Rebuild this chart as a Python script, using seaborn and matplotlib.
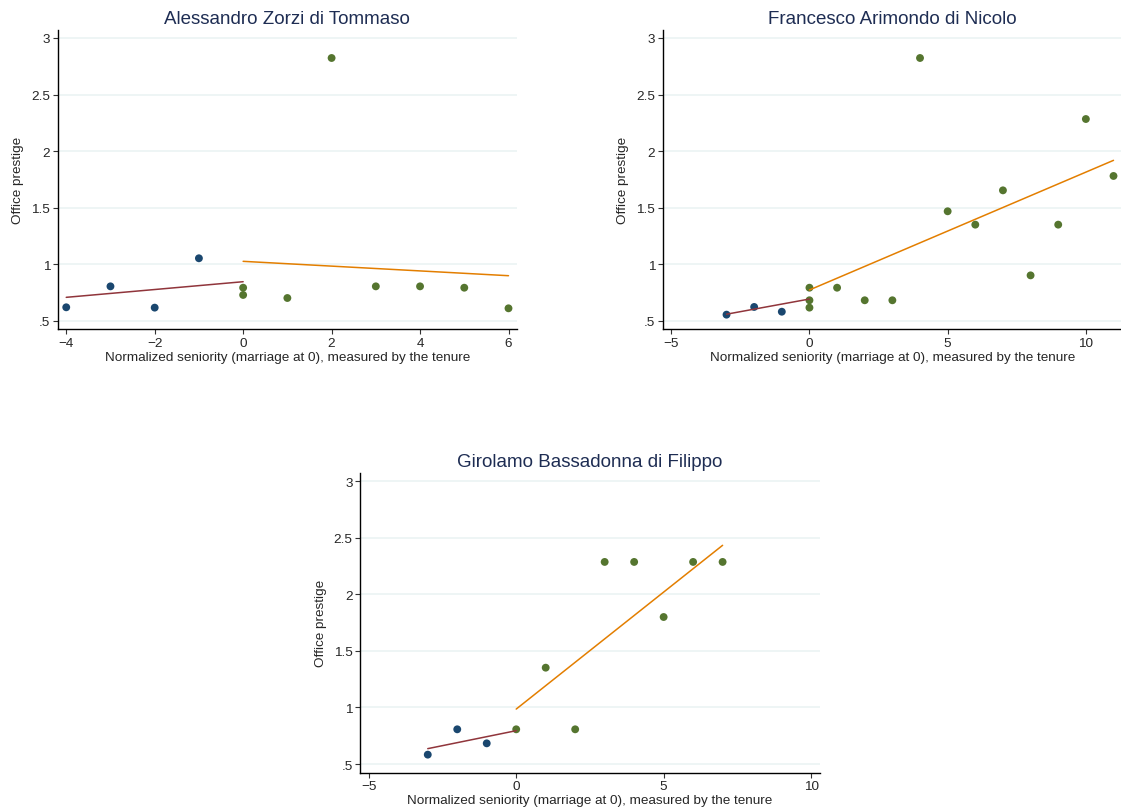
import matplotlib
matplotlib.use("Agg")
import matplotlib.pyplot as plt
import seaborn as sns
import pandas as pd

# Dados (senioridade normalizada vs prestígio do cargo)
names = ["Alessandro Zorzi di Tommaso",
         "Francesco Arimondo di Nicolo",
         "Girolamo Bassadonna di Filippo"]

zorzi_seniority = [-4, -3, -2, -1, 0, 0, 1, 2, 3, 4, 5, 6]
zorzi_prestige = [0.621, 0.806, 0.618, 1.054, 0.794, 0.730, 0.703, 2.823,
                  0.806, 0.806, 0.794, 0.612]
zorzi_fit_pre_x = [-4, 0]
zorzi_fit_pre_y = [0.709, 0.847]
zorzi_fit_post_x = [0, 6]
zorzi_fit_post_y = [1.027, 0.900]

arimondo_seniority = [-3, -2, -1, 0, 0, 0, 1, 2, 3, 4, 5, 6, 7, 8, 9, 10, 11]
arimondo_prestige = [0.556, 0.624, 0.582, 0.794, 0.683, 0.618, 0.794, 0.683,
                     0.683, 2.823, 1.469, 1.351, 1.654, 0.903, 1.351, 2.284,
                     1.781]
arimondo_fit_pre_x = [-3, 0]
arimondo_fit_pre_y = [0.560, 0.694]
arimondo_fit_post_x = [0, 11]
arimondo_fit_post_y = [0.774, 1.919]

bassadonna_seniority = [-3, -2, -1, 0, 1, 2, 3, 4, 5, 6, 7]
bassadonna_prestige = [0.583, 0.807, 0.683, 0.807, 1.352, 0.807, 2.287,
                       2.287, 1.800, 2.287, 2.287]
bassadonna_fit_pre_x = [-3, 0]
bassadonna_fit_pre_y = [0.636, 0.795]
bassadonna_fit_post_x = [0, 7]
bassadonna_fit_post_y = [0.986, 2.434]

yticks = [0.5, 1, 1.5, 2, 2.5, 3]
ytick_labels = [".5", "1", "1.5", "2", "2.5", "3"]
xticks_zorzi = [-4, -2, 0, 2, 4, 6]
xticks_other = [-5, 0, 5, 10]

# Cores (esquema s2color)
cor_antes = "#1a476f"
cor_depois = "#55752f"
cor_fit_antes = "#90353b"
cor_fit_depois = "#e37e00"
cor_titulo = "#1e2d53"

sns.set_style("white")
plt.rcParams['font.family'] = ['Liberation Sans', 'DejaVu Sans']

fig = plt.figure(figsize=(11.21, 8.12), dpi=100)

paineis = [
    (names[0], zorzi_seniority, zorzi_prestige, zorzi_fit_pre_x, zorzi_fit_pre_y,
     zorzi_fit_post_x, zorzi_fit_post_y, xticks_zorzi, (-4, 6),
     [0.0515, 0.593, 0.4097, 0.3692]),
    (names[1], arimondo_seniority, arimondo_prestige, arimondo_fit_pre_x,
     arimondo_fit_pre_y, arimondo_fit_post_x, arimondo_fit_post_y,
     xticks_other, (-5, 11), [0.5912, 0.593, 0.4097, 0.3692]),
    (names[2], bassadonna_seniority, bassadonna_prestige, bassadonna_fit_pre_x,
     bassadonna_fit_pre_y, bassadonna_fit_post_x, bassadonna_fit_post_y,
     xticks_other, (-5, 10), [0.3214, 0.0474, 0.4097, 0.3688]),
]

for (nome, sx, py, fpx, fpy, fqx, fqy, xt, (x0, x1), pos) in paineis:
    ax = fig.add_axes(pos)
    df = pd.DataFrame({"seniority": sx, "prestige": py})
    df["periodo"] = ["antes" if v < 0 else "depois" for v in sx]

    # grade horizontal clara
    for t in yticks:
        ax.axhline(t, color="#eaf2f3", lw=1.1, zorder=0)

    sns.scatterplot(data=df, x="seniority", y="prestige", hue="periodo",
                    palette={"antes": cor_antes, "depois": cor_depois},
                    s=32, linewidth=0, legend=False, ax=ax, zorder=3)
    sns.lineplot(x=fpx, y=fpy, color=cor_fit_antes, lw=1.1, ax=ax, zorder=4)
    sns.lineplot(x=fqx, y=fqy, color=cor_fit_depois, lw=1.1, ax=ax, zorder=4)

    pad = (x1 - x0) * 8.5 / 442
    ax.set_xlim(x0 - pad, x1 + pad)
    ax.set_ylim(0.425, 3.073)
    ax.set_xticks(xt)
    ax.set_yticks(yticks, labels=ytick_labels)

    ax.set_title(nome, fontsize=13.5, color=cor_titulo, pad=5)
    ax.set_xlabel("Normalized seniority (marriage at 0), measured by the tenure",
                  fontsize=9.7, labelpad=1.5)
    ax.set_ylabel("Office prestige", fontsize=9.7, labelpad=5)

    ax.tick_params(axis="both", labelsize=9.7, length=3.5, width=0.8,
                   color="#333333", pad=2, left=True, bottom=True)
    for lado in ["top", "right"]:
        ax.spines[lado].set_visible(False)
    for lado in ["left", "bottom"]:
        ax.spines[lado].set_color("black")
        ax.spines[lado].set_linewidth(1.0)

plt.savefig("out.png", dpi=100)
